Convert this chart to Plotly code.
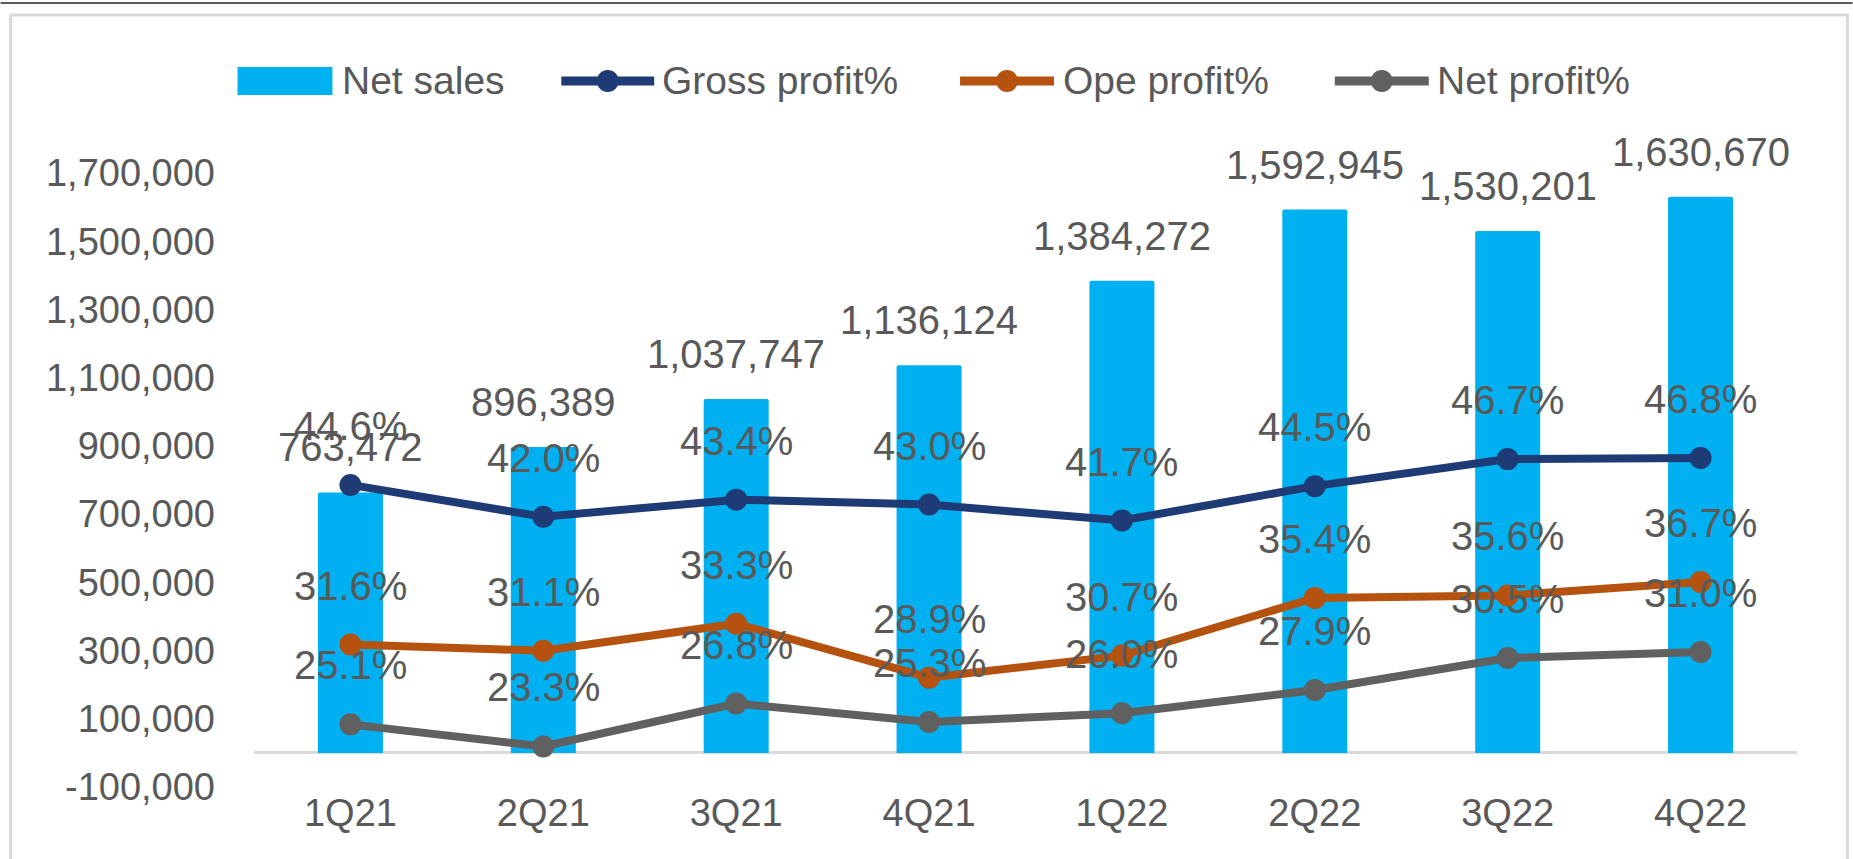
import plotly.graph_objects as go

# ---------------- data ----------------
quarters = ["1Q21", "2Q21", "3Q21", "4Q21", "1Q22", "2Q22", "3Q22", "4Q22"]
net_sales = [763472, 896389, 1037747, 1136124, 1384272, 1592945, 1530201, 1630670]
gross_profit_pct = [44.6, 42.0, 43.4, 43.0, 41.7, 44.5, 46.7, 46.8]
ope_profit_pct = [31.6, 31.1, 33.3, 28.9, 30.7, 35.4, 35.6, 36.7]
net_profit_pct = [25.1, 23.3, 26.8, 25.3, 26.0, 27.9, 30.5, 31.0]
y_tick_vals = [-100000, 100000, 300000, 500000, 700000, 900000, 1100000,
               1300000, 1500000, 1700000]
y_tick_text = ["-100,000", "100,000", "300,000", "500,000", "700,000", "900,000",
               "1,100,000", "1,300,000", "1,500,000", "1,700,000"]

# ---------------- style ----------------
W, H = 1853, 859
L, R = 253.5, 1797.5          # plot area pixel edges (x)
T, B = 173.0, 787.0           # plot area pixel edges (y)
FONT = "Liberation Sans"
TXT = "#595959"
C_BAR = "#00B0F0"
C_GROSS = "#1F3B76"
C_OPE = "#B5520F"
C_NET = "#606060"

def px_x(p):
    return (p - L) / (R - L)

def px_y(p):
    return (B - p) / (B - T)

fig = go.Figure()

fig.add_trace(go.Bar(
    x=quarters, y=net_sales, name="Net sales",
    marker=dict(color=C_BAR, line=dict(width=0), cornerradius=2),
    yaxis="y", showlegend=False,
))

line_series = [
    ("Gross profit%", gross_profit_pct, C_GROSS),
    ("Ope profit%", ope_profit_pct, C_OPE),
    ("Net profit%", net_profit_pct, C_NET),
]
for name, vals, col in line_series:
    fig.add_trace(go.Scatter(
        x=quarters, y=[v / 100 for v in vals], name=name, yaxis="y2",
        mode="lines+markers",
        line=dict(color=col, width=8),
        marker=dict(color=col, size=22),
        showlegend=False,
    ))

annotations = []
# bar value labels
for q, v in zip(quarters, net_sales):
    annotations.append(dict(
        x=q, y=v, xref="x", yref="y", text=f"{v:,}", showarrow=False,
        xanchor="center", yanchor="middle", yshift=45,
        font=dict(family=FONT, size=40, color=TXT),
    ))
# line value labels
for name, vals, col in line_series:
    for q, v in zip(quarters, vals):
        annotations.append(dict(
            x=q, y=v / 100, xref="x", yref="y2", text=f"{v:.1f}%", showarrow=False,
            xanchor="center", yanchor="middle", yshift=59,
            font=dict(family=FONT, size=40, color=TXT),
        ))

# ---------------- custom legend ----------------
shapes = []
legend_y = 81
# bar swatch
shapes.append(dict(type="rect", xref="paper", yref="paper",
                   x0=px_x(237), x1=px_x(332), y0=px_y(95), y1=px_y(67),
                   fillcolor=C_BAR, line=dict(width=0)))
annotations.append(dict(xref="paper", yref="paper", x=px_x(340), y=px_y(legend_y),
                        text="Net sales", showarrow=False, xanchor="left",
                        yanchor="middle",
                        font=dict(family=FONT, size=39, color=TXT)))
legend_lines = [(557, 658, 660), (956, 1058, 1061), (1331, 1433, 1435)]
for (name, vals, col), (x0, x1, xt) in zip(line_series, legend_lines):
    shapes.append(dict(type="line", xref="paper", yref="paper",
                       x0=px_x(x0 + 4), x1=px_x(x1 - 4), y0=px_y(legend_y),
                       y1=px_y(legend_y), line=dict(color=col, width=9)))
    cx = (x0 + x1) / 2
    shapes.append(dict(type="circle", xref="paper", yref="paper",
                       x0=px_x(cx - 11), x1=px_x(cx + 11),
                       y0=px_y(legend_y + 11), y1=px_y(legend_y - 11),
                       fillcolor=col, line=dict(width=0)))
    annotations.append(dict(xref="paper", yref="paper", x=px_x(xt), y=px_y(legend_y),
                            text=name, showarrow=False, xanchor="left",
                            yanchor="middle",
                            font=dict(family=FONT, size=39, color=TXT)))

# chart border and top rule
shapes.append(dict(type="rect", xref="paper", yref="paper",
                   x0=px_x(10), x1=px_x(1848), y0=px_y(900), y1=px_y(15),
                   line=dict(color="#D9D9D9", width=3), fillcolor="rgba(0,0,0,0)",
                   layer="below"))
shapes.append(dict(type="line", xref="paper", yref="paper",
                   x0=px_x(0), x1=px_x(W), y0=px_y(3), y1=px_y(3),
                   line=dict(color="#5A5A5A", width=2)))

fig.update_layout(
    width=W, height=H,
    margin=dict(l=L, r=W - R, t=T, b=H - B, pad=0),
    paper_bgcolor="white", plot_bgcolor="white",
    bargap=0.663,
    showlegend=False,
    font=dict(family=FONT, color=TXT),
    xaxis=dict(
        type="category", showgrid=False, showline=False, ticks="",
        tickfont=dict(family=FONT, size=38, color=TXT),
        range=[-0.5, 7.5],
    ),
    yaxis=dict(
        range=[-100000, 1700000], tickvals=y_tick_vals, ticktext=y_tick_text,
        showgrid=False, showline=False, ticks="",
        zeroline=True, zerolinecolor="#D9D9D9", zerolinewidth=3,
        tickfont=dict(family=FONT, size=38, color=TXT),
        ticklabelstandoff=38,
    ),
    yaxis2=dict(
        overlaying="y", side="right", range=[0.20, 0.70], visible=False,
        showgrid=False, zeroline=False,
    ),
    annotations=annotations,
    shapes=shapes,
)

fig.write_html("out.html",
               config={"displayModeBar": False},
               post_script="document.body.style.margin='0';document.body.style.overflow='hidden';")
